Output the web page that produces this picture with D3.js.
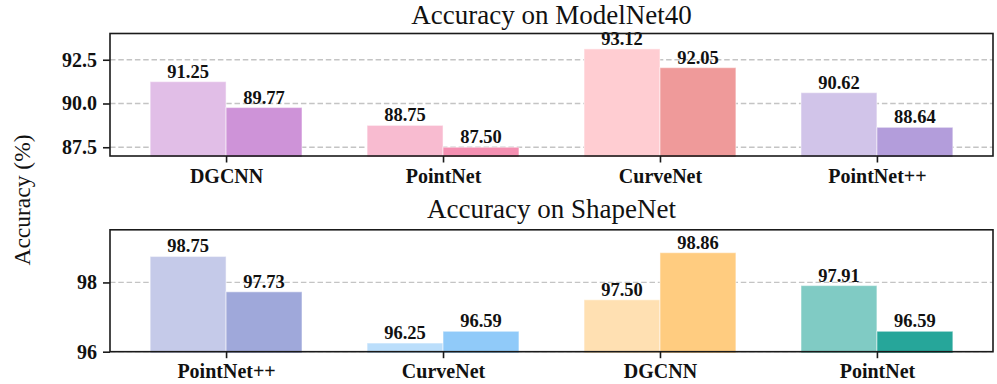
<!DOCTYPE html>
<html>
<head>
<meta charset="utf-8">
<script src="https://cdn.jsdelivr.net/npm/d3@7"></script>
<style>
  html, body { margin: 0; padding: 0; background: #fff; }
  svg { display: block; }
  text { font-family: "Liberation Serif", "Times New Roman", serif; }
</style>
</head>
<body>
<svg id="chart" width="997" height="384"></svg>
<script>
// ---- data ----
const modelnetCategories = ["DGCNN", "PointNet", "CurveNet", "PointNet++"];
const modelnetFirst = [91.25, 88.75, 93.12, 90.62];
const modelnetSecond = [89.77, 87.50, 92.05, 88.64];
const modelnetTicks = [87.5, 90.0, 92.5];
const modelnetLight = ["#e1bee7", "#f8bbd0", "#ffcdd2", "#d1c4e9"];
const modelnetDark = ["#ce93d8", "#f48fb1", "#ef9a9a", "#b39ddb"];

const shapenetCategories = ["PointNet++", "CurveNet", "DGCNN", "PointNet"];
const shapenetFirst = [98.75, 96.25, 97.50, 97.91];
const shapenetSecond = [97.73, 96.59, 98.86, 96.59];
const shapenetTicks = [96, 98];
const shapenetLight = ["#c5cae9", "#bbdefb", "#ffe0b2", "#80cbc4"];
const shapenetDark = ["#9fa8da", "#90caf9", "#ffcc80", "#26a69a"];

const svg = d3.select("#chart");
const left = 110, right = 993;
const barW = 0.35;

function panel(cfg) {
  const x = d3.scaleLinear().domain([-0.535, 3.535]).range([left, right]);
  const y = d3.scaleLinear().domain(cfg.yDomain).range([cfg.bottom, cfg.top]);
  const g = svg.append("g");

  // grid
  g.append("g").selectAll("line").data(cfg.ticks).join("line")
    .attr("x1", left).attr("x2", right)
    .attr("y1", d => y(d)).attr("y2", d => y(d))
    .attr("stroke", "#c4c4c4").attr("stroke-width", 1.3)
    .attr("stroke-dasharray", "5.5,2.8");

  const clipId = "clip" + cfg.id;
  svg.append("clipPath").attr("id", clipId).append("rect")
    .attr("x", left).attr("y", cfg.top).attr("width", right - left).attr("height", cfg.bottom - cfg.top + 1);

  const bars = g.append("g").attr("clip-path", `url(#${clipId})`);
  const idx = d3.range(cfg.cats.length);
  const y0 = cfg.yDomain[0];
  bars.selectAll("rect.a").data(idx).join("rect").attr("class", "a")
    .attr("x", i => x(i - barW)).attr("width", x(barW) - x(0))
    .attr("y", i => y(cfg.first[i])).attr("height", i => y(y0) - y(cfg.first[i]) + 2)
    .attr("fill", i => cfg.light[i])
    .attr("stroke", "#fff").attr("stroke-opacity", 0.45).attr("stroke-width", 1.2);
  bars.selectAll("rect.b").data(idx).join("rect").attr("class", "b")
    .attr("x", i => x(i)).attr("width", x(barW) - x(0))
    .attr("y", i => y(cfg.second[i])).attr("height", i => y(y0) - y(cfg.second[i]) + 2)
    .attr("fill", i => cfg.dark[i])
    .attr("stroke", "#fff").attr("stroke-opacity", 0.45).attr("stroke-width", 1.2);

  // value labels
  const lab = g.append("g").attr("font-weight", "bold").attr("font-size", "18.5px")
    .attr("text-anchor", "middle").attr("fill", "#111");
  idx.forEach(i => {
    lab.append("text").attr("x", x(i - barW / 2)).attr("y", y(cfg.first[i]) - 4).text(cfg.first[i].toFixed(2));
    lab.append("text").attr("x", x(i + barW / 2)).attr("y", y(cfg.second[i]) - 4).text(cfg.second[i].toFixed(2));
  });

  // frame
  g.append("rect").attr("x", left).attr("y", cfg.top).attr("width", right - left).attr("height", cfg.bottom - cfg.top)
    .attr("fill", "none").attr("stroke", "#1a1a1a").attr("stroke-width", 1.6);

  // axes
  const xa = g.append("g").attr("transform", `translate(0,${cfg.bottom})`)
    .call(d3.axisBottom(x).tickValues(idx).tickFormat(i => cfg.cats[i]).tickSize(6.5).tickPadding(6));
  xa.select(".domain").remove();
  xa.selectAll("line").attr("stroke", "#1a1a1a").attr("stroke-width", 1.6);
  xa.selectAll("text").attr("font-size", "20px").attr("font-weight", "bold").attr("fill", "#111")
    .attr("font-family", "'Liberation Serif', serif");

  const ya = g.append("g").attr("transform", `translate(${left},0)`)
    .call(d3.axisLeft(y).tickValues(cfg.ticks).tickFormat(cfg.fmt).tickSize(7).tickPadding(6));
  ya.select(".domain").remove();
  ya.selectAll("line").attr("stroke", "#1a1a1a").attr("stroke-width", 1.6);
  ya.selectAll("text").attr("font-size", "20px").attr("font-weight", "bold").attr("fill", "#111")
    .attr("font-family", "'Liberation Serif', serif");

  // title
  svg.append("text").attr("x", (left + right) / 2).attr("y", cfg.titleY)
    .attr("text-anchor", "middle").attr("font-size", "27px").attr("fill", "#111")
    .text(cfg.title);
}

panel({
  id: "a", cats: modelnetCategories, first: modelnetFirst, second: modelnetSecond,
  light: modelnetLight, dark: modelnetDark, ticks: modelnetTicks,
  yDomain: [87.0, 94.0], top: 33.5, bottom: 156, fmt: d3.format(".1f"),
  title: "Accuracy on ModelNet40", titleY: 24.2
});
panel({
  id: "b", cats: shapenetCategories, first: shapenetFirst, second: shapenetSecond,
  light: shapenetLight, dark: shapenetDark, ticks: shapenetTicks,
  yDomain: [96, 99.52], top: 229.8, bottom: 351.7, fmt: d3.format("d"),
  title: "Accuracy on ShapeNet", titleY: 217.5
});

svg.append("text").attr("transform", "translate(30,200) rotate(-90)")
  .attr("text-anchor", "middle").attr("font-size", "23.5px").attr("fill", "#111")
  .text("Accuracy (%)");
</script>
</body>
</html>
